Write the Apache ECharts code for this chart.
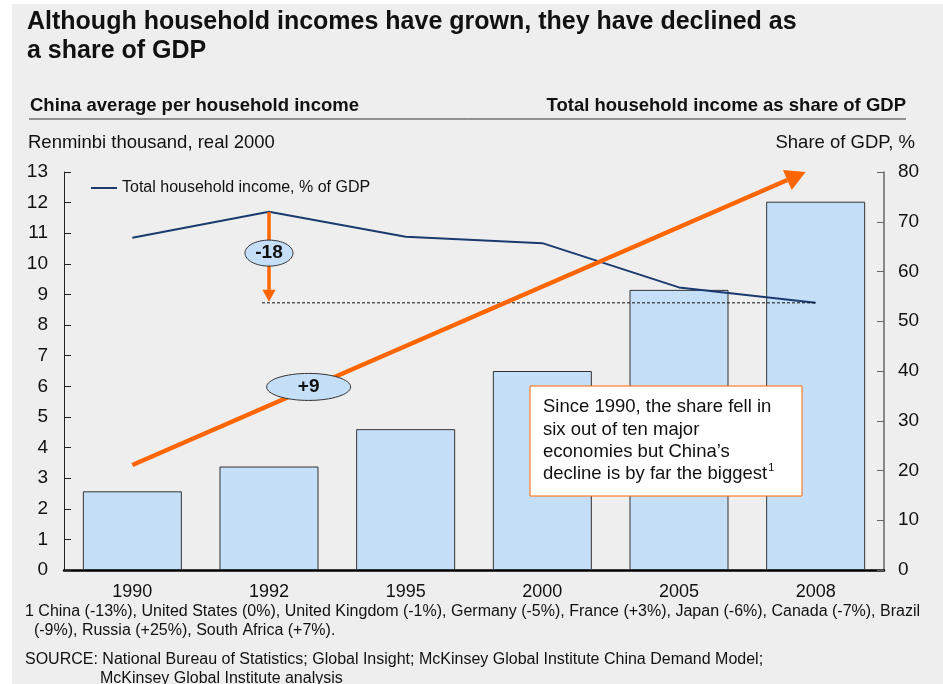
<!DOCTYPE html>
<html>
<head>
<meta charset="utf-8">
<script src="https://cdn.jsdelivr.net/npm/echarts@6/dist/echarts.min.js"></script>
<style>
  html, body { margin: 0; padding: 0; background: #fff; }
  #main { width: 943px; height: 684px; }
</style>
</head>
<body>
<div id="main"></div>
<script>
var years = ["1990", "1992", "1995", "2000", "2005", "2008"];
var incomeValues = [2.57, 3.38, 4.6, 6.5, 9.15, 12.03];      // RMB thousand, real 2000
var shareValues = [66.8, 72.0, 67.0, 65.7, 56.8, 53.7];       // % of GDP
var leftTicks = [0, 13, 1];
var rightTicks = [0, 80, 10];

var font = "Liberation Sans, Arial, sans-serif";
var orange = "#ff6600";
var navy = "#1b3a6f";

var chart = echarts.init(document.getElementById("main"), null, { renderer: "canvas" });

var option = {
  animation: false,
  backgroundColor: "#fff",
  textStyle: { fontFamily: font },
  grid: { left: 64, right: 59, top: 172, bottom: 114, containLabel: false },
  legend: {
    left: 86, top: 175,
    itemWidth: 26, itemHeight: 2, itemGap: 11,
    textStyle: { fontFamily: font, fontSize: 16, color: "#111" },
    data: [{ name: "Total household income, % of GDP", icon: "rect" }]
  },
  xAxis: {
    type: "category",
    data: years,
    axisLine: { lineStyle: { color: "#000", width: 2.5 } },
    axisTick: { show: false },
    axisLabel: { color: "#111", fontSize: 18, margin: 13, fontFamily: font }
  },
  yAxis: [
    {
      type: "value", min: leftTicks[0], max: leftTicks[1], interval: leftTicks[2],
      axisLine: { show: true, lineStyle: { color: "#222", width: 1 } },
      axisTick: { show: true, inside: true, length: 7, lineStyle: { color: "#222" } },
      axisLabel: { color: "#111", fontSize: 19, margin: 16, fontFamily: font },
      splitLine: { show: false }
    },
    {
      type: "value", min: rightTicks[0], max: rightTicks[1], interval: rightTicks[2],
      position: "right",
      axisLine: { show: true, lineStyle: { color: "#666", width: 1.5 } },
      axisTick: { show: true, inside: true, length: 7, lineStyle: { color: "#666" } },
      axisLabel: { color: "#111", fontSize: 19, margin: 14, fontFamily: font },
      splitLine: { show: false }
    }
  ],
  series: [
    {
      name: "Income",
      type: "bar",
      barWidth: 99,
      data: incomeValues,
      itemStyle: { color: "#c6dff8", borderColor: "#333", borderWidth: 1 },
      z: 2
    },
    {
      name: "Total household income, % of GDP",
      type: "line",
      yAxisIndex: 1,
      data: shareValues,
      symbol: "none",
      lineStyle: { color: navy, width: 2 },
      itemStyle: { color: navy },
      z: 3
    }
  ]
};
chart.setOption(option);

// annotations placed through the axes' own conversion
function px(cat, v) { return chart.convertToPixel({ seriesIndex: 1 }, [cat, v]); }
var band = px("1992", 0)[0] - px("1990", 0)[0];

function arrow(x1, y1, x2, y2, w, head) {
  var a = Math.atan2(y2 - y1, x2 - x1);
  var bx = x2 - head * Math.cos(a), by = y2 - head * Math.sin(a);
  var nx = -Math.sin(a) * head * 0.55, ny = Math.cos(a) * head * 0.55;
  return [
    { type: "line", shape: { x1: x1, y1: y1, x2: bx, y2: by }, style: { stroke: orange, lineWidth: w }, z: 20 },
    { type: "polygon", shape: { points: [[x2, y2], [bx + nx, by + ny], [bx - nx, by - ny]] }, style: { fill: orange }, z: 20 }
  ];
}

var peak = px("1992", shareValues[1]);
var last = px("2008", shareValues[5]);
var start = px("1990", 21.1);
var end = px("2008", 80);
end[0] -= 10;
var minusPos = px("1992", 63.7);
var plusPos = px("1992", 36.8);
plusPos[0] += band * 0.29;

var g = [
  { type: "rect", shape: { x: 12, y: 4, width: 931, height: 680 }, style: { fill: "#eeeeee" }, z: -10 },
  { type: "text", left: 27, top: 8, style: { text: "Although household incomes have grown, they have declined as\na share of GDP", font: "bold 25px " + font, fill: "#111", lineHeight: 29 } },
  { type: "text", left: 30, top: 96, style: { text: "China average per household income", font: "bold 18.5px " + font, fill: "#111" } },
  { type: "text", right: 37, top: 96, style: { text: "Total household income as share of GDP", font: "bold 18.5px " + font, fill: "#111" } },
  { type: "line", shape: { x1: 29, y1: 119, x2: 906, y2: 119 }, style: { stroke: "#333", lineWidth: 1 } },
  { type: "text", left: 28, top: 133, style: { text: "Renminbi thousand, real 2000", font: "18.5px " + font, fill: "#111" } },
  { type: "text", right: 28, top: 133, style: { text: "Share of GDP, %", font: "18.5px " + font, fill: "#111" } },
  { type: "line", shape: { x1: peak[0] - 7, y1: last[1], x2: last[0], y2: last[1] }, style: { stroke: "#111", lineWidth: 1, lineDash: [3, 2] }, z: 10 }
];
g = g.concat(arrow(peak[0], peak[1], peak[0], last[1] - 1, 3.5, 12));
g = g.concat(arrow(start[0], start[1], end[0], end[1], 4.5, 20));
g.push(
  { type: "ellipse", shape: { cx: minusPos[0], cy: minusPos[1], rx: 24, ry: 13 }, style: { fill: "#c6dff8", stroke: "#333", lineWidth: 1 }, z: 25 },
  { type: "text", x: minusPos[0], y: minusPos[1], style: { text: "-18", font: "bold 19px " + font, fill: "#111", align: "center", verticalAlign: "middle" }, z: 26 },
  { type: "ellipse", shape: { cx: plusPos[0], cy: plusPos[1], rx: 42, ry: 13.5 }, style: { fill: "#c6dff8", stroke: "#333", lineWidth: 1 }, z: 25 },
  { type: "text", x: plusPos[0], y: plusPos[1], style: { text: "+9", font: "bold 19px " + font, fill: "#111", align: "center", verticalAlign: "middle" }, z: 26 },
  { type: "rect", shape: { x: 530, y: 386, width: 272, height: 110 }, style: { fill: "#fff", stroke: orange, lineWidth: 1 }, z: 30 },
  { type: "text", left: 543, top: 396, z: 31, style: {
      text: "Since 1990, the share fell in\nsix out of ten major\neconomies but China\u2019s\ndecline is by far the biggest{s|1}",
      font: "18.5px " + font, fill: "#111", lineHeight: 22.3,
      rich: { s: { fontSize: 11, verticalAlign: "top", padding: [0, 0, 8, 1], fontFamily: font, lineHeight: 22.3 } }
  } },
  { type: "text", left: 25, top: 602, style: {
      text: "1 China (-13%), United States (0%), United Kingdom (-1%), Germany (-5%), France (+3%), Japan (-6%), Canada (-7%), Brazil\n  (-9%), Russia (+25%), South Africa (+7%).",
      font: "16px " + font, fill: "#111", lineHeight: 19 } },
  { type: "text", left: 25, top: 652, style: {
      text: "SOURCE: National Bureau of Statistics; Global Insight; McKinsey Global Institute China Demand Model;",
      font: "16px " + font, fill: "#111" } },
  { type: "text", left: 100, top: 671, style: {
      text: "McKinsey Global Institute analysis", font: "16px " + font, fill: "#111" } }
);
chart.setOption({ graphic: g });
</script>
</body>
</html>
